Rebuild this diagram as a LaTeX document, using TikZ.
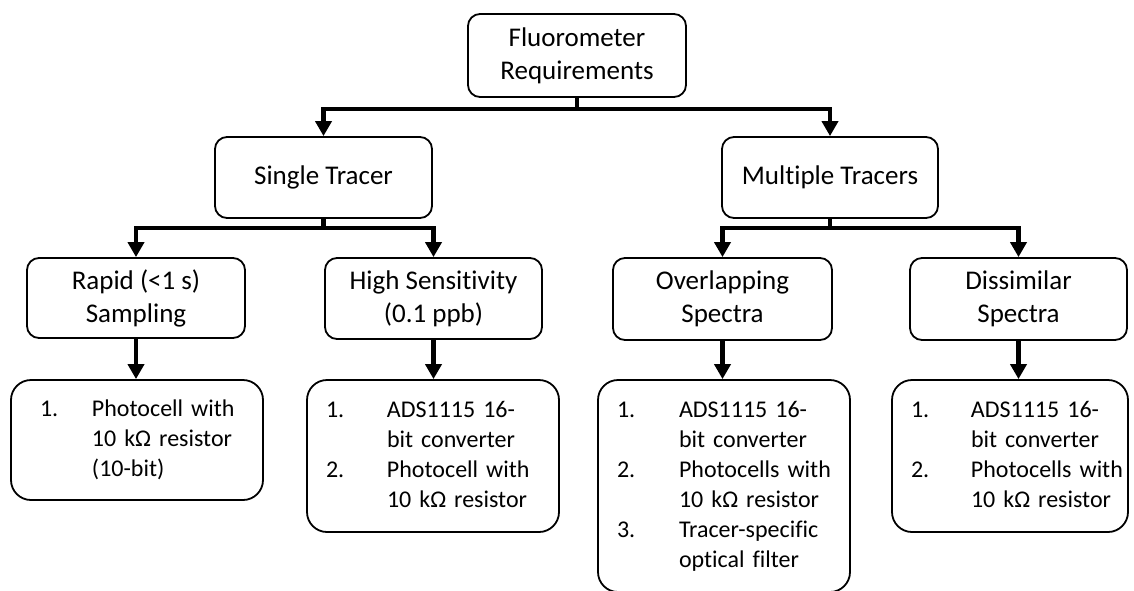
\documentclass[tikz,border=0pt]{standalone}
\usepackage{fontspec}
\setmainfont[Ligatures=NoCommon]{Carlito}
\usetikzlibrary{arrows.meta, positioning}

\begin{document}
\begin{tikzpicture}[x=1pt, y=-1pt,
  hbox/.style={draw, line width=1.8pt, rounded corners=12pt, align=center, inner sep=0pt, font=\fontsize{27}{33}\selectfont},
  lbox/.style={draw, line width=1.8pt, rounded corners=20pt, inner xsep=19pt, inner ysep=0pt, text width=214pt, font=\fontsize{24}{30}\selectfont},
  link/.style={line width=4.5pt},
  arr/.style={link, -{Triangle[length=15pt, width=16pt]}}
]
  \useasboundingbox (0,0) rectangle (1134,590);

  % requirement tree
  \node[hbox, minimum width=218pt, minimum height=83pt] (fluoro) at (577,55.5) {Fluorometer\\Requirements};
  \node[hbox, minimum width=217pt, minimum height=81pt] (single) at (323.5,177.5) {Single Tracer};
  \node[hbox, minimum width=216pt, minimum height=81pt] (multi) at (830,177.5) {Multiple Tracers};
  \node[hbox, minimum width=218pt, minimum height=80pt] (rapid) at (136,298) {Rapid (<1 s)\\Sampling};
  \node[hbox, minimum width=217pt, minimum height=81pt] (highsens) at (433.5,298.5) {High Sensitivity\\(0.1 ppb)};
  \node[hbox, minimum width=219pt, minimum height=82pt] (overlap) at (722.5,299) {Overlapping\\Spectra};
  \node[hbox, minimum width=217pt, minimum height=82pt] (dissim) at (1018.5,299) {Dissimilar\\Spectra};

  % component lists
  \node[lbox, minimum height=120pt] (rapidlist) at (137,440) {\begin{tabular}{@{\hspace{10pt}}p{52pt}@{}l@{}}
    1. & Photocell with\\ & 10 kΩ resistor\\ & (10-bit)\end{tabular}};
  \node[lbox, minimum height=152pt] (highlist) at (433,456) {\begin{tabular}{@{}p{61pt}@{}l@{}}
    1. & ADS1115 16-\\ & bit converter\\ 2. & Photocell with\\ & 10 kΩ resistor\end{tabular}};
  \node[lbox, minimum height=212pt] (overlist) at (724,486) {\begin{tabular}{@{}p{62pt}@{}l@{}}
    1. & ADS1115 16-\\ & bit converter\\ 2. & Photocells with\\ & 10 kΩ resistor\\ 3. & Tracer-specific\\ & optical filter\end{tabular}};
  \node[lbox, text width=198pt, minimum height=152pt] (dissimlist) at (1010,456) {\begin{tabular}{@{}p{60pt}@{}l@{}}
    1. & ADS1115 16-\\ & bit converter\\ 2. & Photocells with\\ & 10 kΩ resistor\end{tabular}};

  % branches
  \draw[link] (fluoro.south) -- ++(0,11) coordinate (hubtop);
  \draw[arr] (hubtop) -| (single.north);
  \draw[arr] (hubtop) -| (multi.north);
  \draw[link] (single.south) -- ++(0,9) coordinate (hubsingle);
  \draw[arr] (hubsingle) -| (rapid.north);
  \draw[arr] (hubsingle) -| (highsens.north);
  \draw[link] (multi.south) -- ++(0,9) coordinate (hubmulti);
  \draw[arr] (hubmulti) -| (overlap.north);
  \draw[arr] (hubmulti) -| (dissim.north);

  \draw[arr] (rapid.south) -- (rapid.south |- rapidlist.north);
  \draw[arr] (highsens.south) -- (highsens.south |- highlist.north);
  \draw[arr] (overlap.south) -- (overlap.south |- overlist.north);
  \draw[arr] (dissim.south) -- (dissim.south |- dissimlist.north);
\end{tikzpicture}
\end{document}
